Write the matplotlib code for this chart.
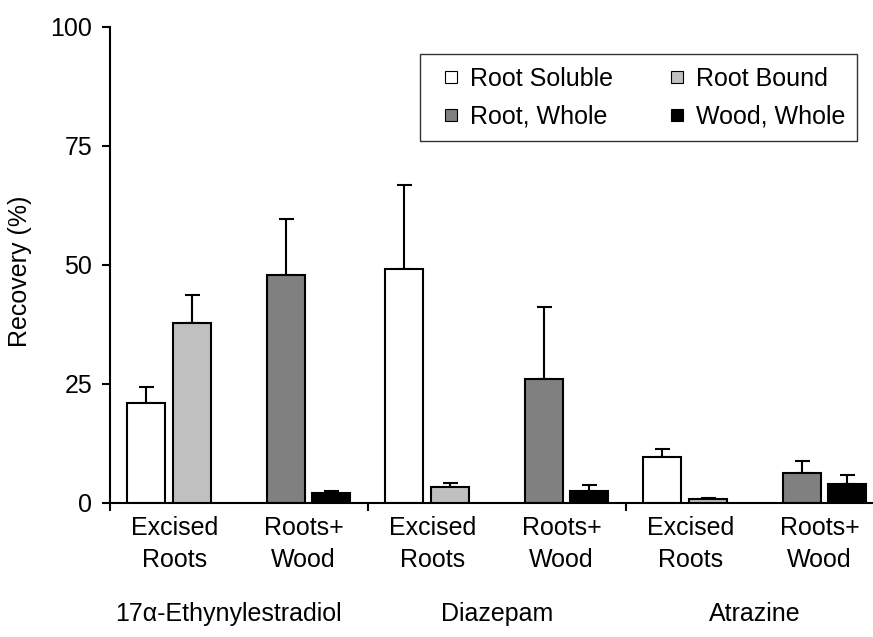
import matplotlib
matplotlib.use("Agg")
import matplotlib.pyplot as plt
from matplotlib.lines import Line2D
from matplotlib.transforms import blended_transform_factory

plt.rcParams['font.family'] = ['Liberation Sans', 'DejaVu Sans']
FS = 18

# recovery (%) per compound: 17a-ethynylestradiol, diazepam, atrazine
compounds = ['17\u03b1-Ethynylestradiol', 'Diazepam', 'Atrazine']
treatments = ['Excised\nRoots', 'Roots+\nWood']

root_soluble = [21.0, 49.1, 9.5]
root_soluble_err = [3.3, 17.6, 1.7]
root_bound = [37.7, 3.2, 0.8]
root_bound_err = [5.9, 0.9, 0.2]
root_whole = [47.8, 25.9, 6.2]
root_whole_err = [11.8, 15.2, 2.5]
wood_whole = [2.0, 2.5, 3.8]
wood_whole_err = [0.5, 1.1, 1.9]

fig = plt.figure(figsize=(8.73, 6.37), dpi=100)
W, H = 873.0, 637.0
ax = fig.add_axes([110 / W, 1 - 502.5 / H, 763 / W, 475.5 / H])

bw = 0.147
series = [
    (root_soluble, root_soluble_err, 'white', 0.140, 'Root Soluble'),
    (root_bound, root_bound_err, '#c0c0c0', 0.318, 'Root Bound'),
    (root_whole, root_whole_err, '#808080', 0.683, 'Root, Whole'),
    (wood_whole, wood_whole_err, 'black', 0.857, 'Wood, Whole'),
]
handles = {}
for vals, errs, col, off, name in series:
    xs = [g + off for g in range(len(compounds))]
    ax.bar(xs, vals, width=bw, color=col, edgecolor='black', linewidth=1.5, zorder=2)
    ax.errorbar(xs, vals, yerr=[[0] * len(errs), errs], fmt='none', ecolor='black',
                elinewidth=1.5, capsize=5.4, capthick=1.5, zorder=1)
    handles[name] = Line2D([], [], linestyle='none', marker='s', markersize=8.6,
                           markerfacecolor=col, markeredgecolor='black',
                           markeredgewidth=0.8)

ax.set_xlim(0, 763 / 258)
ax.set_ylim(0, 100)
ax.set_yticks([0, 25, 50, 75, 100])
ax.set_xticks([0, 1, 2])
ax.set_xticklabels([])
for s in ['top', 'right']:
    ax.spines[s].set_visible(False)
for s in ['left', 'bottom']:
    ax.spines[s].set_linewidth(1.5)
ax.tick_params(axis='both', direction='out', length=5.8, width=1.5, labelsize=FS, pad=7)

# treatment and compound labels under the axis
tr = blended_transform_factory(ax.transData, fig.transFigure)
for g in range(len(compounds)):
    for k, t in enumerate(treatments):
        l1, l2 = t.split('\n')
        ax.text(g + 0.25 + 0.5 * k, 1 - 535 / H, l1, transform=tr, ha='center',
                va='baseline', fontsize=FS)
        ax.text(g + 0.25 + 0.5 * k, 1 - 567 / H, l2, transform=tr, ha='center',
                va='baseline', fontsize=FS)
for x, name in zip([0.46, 1.5, 2.5], compounds):
    ax.text(x, 1 - 621 / H, name, transform=tr, ha='center', va='baseline', fontsize=FS)

fig.text(20 / W, 1 - 271 / H, 'Recovery (%)', rotation=90, ha='center', va='center',
         fontsize=FS)

order = ['Root Soluble', 'Root, Whole', 'Root Bound', 'Wood, Whole']
leg = ax.legend([handles[n] for n in order], order, ncol=2, fontsize=FS,
                loc='upper left', bbox_to_anchor=(420 / W, 1 - 54 / H),
                bbox_transform=fig.transFigure, borderaxespad=0, fancybox=False,
                frameon=True, handlelength=1.5, handletextpad=0.0,
                columnspacing=1.8, labelspacing=0.55, borderpad=0.5)
leg.get_frame().set_edgecolor('black')
leg.get_frame().set_linewidth(1.0)

fig.savefig('out.png', dpi=100)
